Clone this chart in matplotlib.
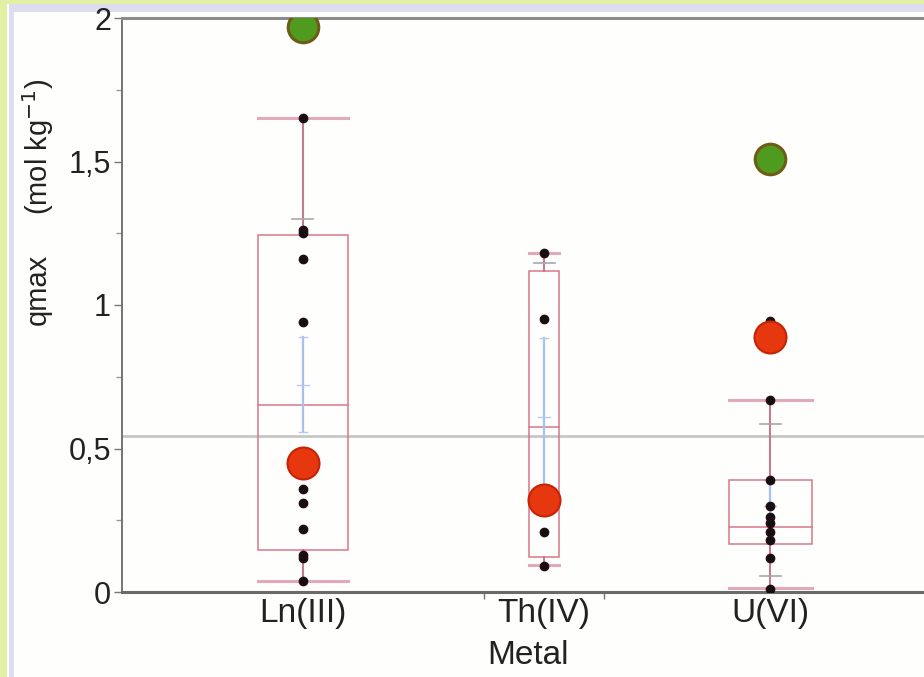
import matplotlib
matplotlib.use("Agg")
import matplotlib.pyplot as plt
from matplotlib.patches import Rectangle
from matplotlib.ticker import FuncFormatter, MultipleLocator
import numpy as np

plt.rcParams['font.family'] = ['Liberation Sans', 'DejaVu Sans']

# ---------------- data ----------------
categories = ["Ln(III)", "Th(IV)", "U(VI)"]
group_n = [12, 4, 11]

points_ln = [1.65, 1.26, 1.25, 1.16, 0.94, 0.36, 0.31, 0.22, 0.13, 0.12, 0.04]
points_th = [1.18, 0.95, 0.21, 0.09]
points_u = [0.945, 0.67, 0.39, 0.30, 0.26, 0.24, 0.21, 0.18, 0.12, 0.01]
points = [points_ln, points_th, points_u]

q1 = [0.146, 0.122, 0.166]
median = [0.651, 0.575, 0.227]
q3 = [1.244, 1.12, 0.39]
whisk_lo = [0.038, 0.094, 0.013]
whisk_hi = [1.65, 1.18, 0.67]

mean_vals = [0.72, 0.61, 0.30]
mean_lo = [0.557, 0.37, 0.22]
mean_hi = [0.89, 0.885, 0.38]

extra_ticks = [[1.30], [1.145], [0.585, 0.056]]

red_vals = [0.45, 0.32, 0.89]
green_cats = ["Ln(III)", "U(VI)"]
green_vals = [1.97, 1.51]

grand_mean = 0.545

# ---------------- figure ----------------
W, H = 924, 677
fig = plt.figure(figsize=(W / 100, H / 100), dpi=100, facecolor="#fefefc")

def px(x0, y0, w, h, color):
    fig.add_artist(Rectangle((x0 / W, 1 - (y0 + h) / H), w / W, h / H,
                             transform=fig.transFigure, facecolor=color,
                             edgecolor="none", zorder=0))

px(0, 0, 7, H, "#e2f0a6")
px(0, 0, W, 4, "#e2f0a6")
px(9, 4, 5, H, "#dedcef")
px(9, 4, W, 8, "#dedcef")

total = sum(group_n)
ax_left, ax_right, ax_top, ax_bot = 122, 936, 18, 592
ax = fig.add_axes([ax_left / W, 1 - ax_bot / H, (ax_right - ax_left) / W, (ax_bot - ax_top) / H])
ax.set_facecolor("none")
ax.set_xlim(0, total)
ax.set_ylim(0, 2)

bounds = np.concatenate([[0], np.cumsum(group_n)])
centers = (bounds[:-1] + bounds[1:]) / 2
widths = [0.25 * n for n in group_n]

ax.axhline(grand_mean, color="#c6c6c6", lw=2, zorder=1)

box_col = "#d8788a"
for i, c in enumerate(centers):
    w = widths[i]
    ax.add_patch(Rectangle((c - w / 2, q1[i]), w, q3[i] - q1[i], fill=False,
                           edgecolor=box_col, lw=1.1, zorder=2))
    ax.plot([c - w / 2, c + w / 2], [median[i]] * 2, color=box_col, lw=1.1, zorder=2)
    ax.plot([c, c], [q3[i], whisk_hi[i]], color="#c07c90", lw=1.5, zorder=2)
    ax.plot([c, c], [whisk_lo[i], q1[i]], color="#c07c90", lw=1.5, zorder=2)
    capw = max(w, 0.9)
    for v in (whisk_lo[i], whisk_hi[i]):
        ax.plot([c - capw / 2, c + capw / 2], [v, v], color="#e2a9ba", lw=2.2, zorder=2)
    ax.plot([c, c], [mean_lo[i], mean_hi[i]], color="#a9bff0", lw=1.6, zorder=2)
    for v in (mean_lo[i], mean_hi[i]):
        ax.plot([c - 0.12, c + 0.12], [v, v], color="#b8c8ee", lw=1.0, zorder=2)
    ax.plot([c - 0.2, c + 0.2], [mean_vals[i]] * 2, color="#b8c8ee", lw=1.0, zorder=2)
    for v in extra_ticks[i]:
        ax.plot([c - 0.35, c + 0.35], [v, v], color="#a8a8a8", lw=1.2, zorder=2)
    ax.plot([c] * len(points[i]), points[i], "o", color="#111111", ms=6,
            mec="#2a0a14", zorder=4)
    ax.plot(c, red_vals[i], "o", ms=23, mfc="#e6370e", mec="#c42408", mew=1.5, zorder=5)

for cat, v in zip(green_cats, green_vals):
    c = centers[categories.index(cat)]
    ax.plot(c, v, "o", ms=22, mfc="#4f9b1f", mec="#6e5c16", mew=2.2, zorder=5)

ax.spines["right"].set_visible(False)
ax.spines["top"].set_color("#8a8a8a")
ax.spines["top"].set_linewidth(2.2)
ax.spines["left"].set_color("#6a6a6a")
ax.spines["left"].set_linewidth(1.3)
ax.spines["bottom"].set_color("#6a6a6a")
ax.spines["bottom"].set_linewidth(2.2)

ax.yaxis.set_major_locator(MultipleLocator(0.5))
ax.yaxis.set_minor_locator(MultipleLocator(0.25))
ax.yaxis.set_major_formatter(FuncFormatter(lambda v, p: ("%g" % v).replace(".", ",")))
ax.tick_params(axis="y", which="major", length=6, width=1, color="#777777",
               labelsize=22, labelcolor="#222222", pad=2)
ax.tick_params(axis="y", which="minor", length=4, width=1, color="#999999")

ax.set_xticks(centers)
ax.set_xticklabels(categories)
ax.set_xticks(bounds[1:-1], minor=True)
ax.tick_params(axis="x", which="major", length=0, labelsize=24, labelcolor="#222222", pad=4)
ax.tick_params(axis="x", which="minor", length=5, width=1, color="#777777")

fig.text(528 / W, 1 - 655 / H, "Metal", fontsize=24, color="#222222", ha="center", va="center")
fig.text(38 / W, 1 - 289 / H, "qmax", fontsize=21, color="#222222",
         rotation=90, ha="center", va="center")
fig.text(38 / W, 1 - 147 / H, "(mol kg$^{-1}$)", fontsize=21, color="#222222",
         rotation=90, ha="center", va="center")

fig.savefig("out.png", dpi=100, facecolor=fig.get_facecolor())
